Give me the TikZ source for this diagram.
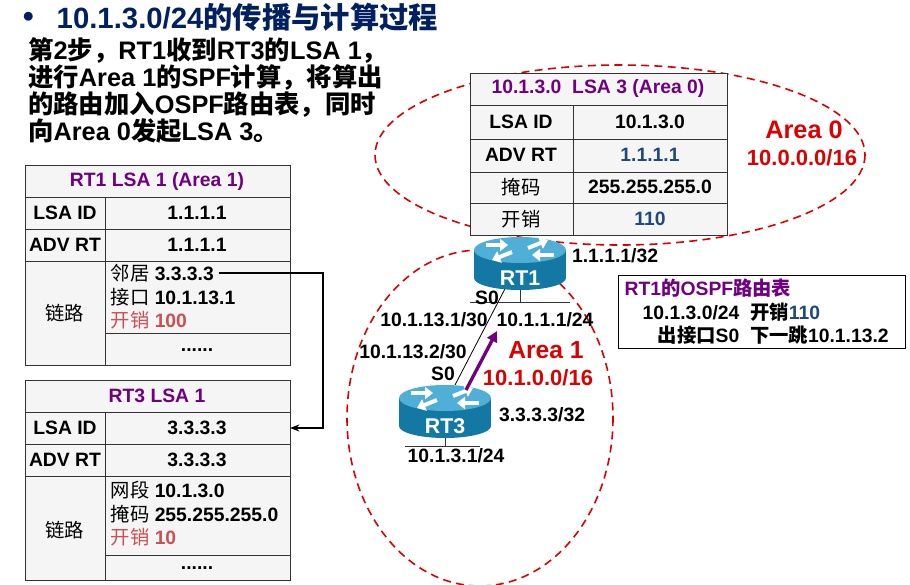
\documentclass[tikz,border=0pt]{standalone}
\usepackage{fontspec}
\setmainfont{Liberation Sans}
\newfontfamily\cjk{Noto Sans CJK SC}
\newfontfamily\cjkb{Noto Sans CJK SC Bold}
\newcommand{\zh}[1]{{\mdseries\cjk #1}}
\newcommand{\zb}[1]{{\cjkb #1}}
\usetikzlibrary{arrows.meta}
\definecolor{ttl}{RGB}{0,32,96}
\definecolor{pur}{RGB}{112,0,128}
\definecolor{cred}{RGB}{220,0,0}
\definecolor{pink}{RGB}{205,80,80}
\definecolor{blu}{RGB}{31,73,125}
\definecolor{rbody}{RGB}{20,120,165}
\definecolor{rtop}{RGB}{80,175,215}
\begin{document}
\begin{tikzpicture}[x=0.75pt,y=-0.75pt,
  cell/.style={draw=black!80,line width=0.6pt},
  tt/.style={font=\bfseries\fontsize{14.5}{16}\selectfont},
  lbl/.style={font=\bfseries\fontsize{14.5}{16}\selectfont},
  area/.style={draw=cred,dashed,line width=1.2pt,dash pattern=on 6pt off 4pt}]
\useasboundingbox (0,0) rectangle (910,585);
% title
\node[anchor=west,text=ttl,font=\bfseries\fontsize{18}{20}\selectfont] (bul) at (18,17) {$\bullet$};
\node[anchor=west,text=ttl,font=\bfseries\fontsize{22}{24}\selectfont] (title) at (52,17) {10.1.3.0/24\zb{的传播与计算过程}};
\node[anchor=north west,align=left,font=\bfseries\fontsize{19}{20.3}\selectfont,inner sep=0] (txt) at (28,37)
 {\zb{第}2\zb{步，}RT1\zb{收到}RT3\zb{的}LSA 1\zb{，}\\\zb{进行}Area 1\zb{的}SPF\zb{计算，将算出}\\\zb{的路由加入}OSPF\zb{路由表，同时}\\\zb{向}Area 0\zb{发起}LSA 3\zb{。}};
% ellipses
\draw[area] (620,155) ellipse (245 and 90);
\draw[area] (480,418) ellipse (133 and 168);
% table RT1 LSA1
\fill[black!4] (25,165) rectangle (290,365);
\draw[cell] (25,165) rectangle (290,365);
\foreach \y in {197,229,261} \draw[cell] (25,\y)--(290,\y);
\draw[cell] (105,197)--(105,365);
\draw[cell] (105,333)--(290,333);
\node[tt,text=pur] (a0) at (157,181) {RT1 LSA 1 (Area 1)};
\node[tt] (a1) at (65,213) {LSA ID};
\node[tt] (a2) at (197,213) {1.1.1.1};
\node[tt] (a3) at (65,245) {ADV RT};
\node[tt] (a4) at (197,245) {1.1.1.1};
\node[tt] (a5) at (65,313) {\zh{链路}};
\node[tt,anchor=west] (a6) at (106,273) {\zh{邻居}\ 3.3.3.3};
\node[tt,anchor=west] (a7) at (106,297) {\zh{接口} 10.1.13.1};
\node[tt,anchor=west,text=pink] (a8) at (106,320) {\zh{开销} 100};
\node[tt] (a9) at (197,350) {......};
% table RT3
\fill[black!4] (25,380) rectangle (290,580);
\draw[cell] (25,380) rectangle (290,580);
\foreach \y in {412,444,476} \draw[cell] (25,\y)--(290,\y);
\draw[cell] (105,412)--(105,580);
\draw[cell] (105,555)--(290,555);
\node[tt,text=pur] (b0) at (157,396) {RT3 LSA 1};
\node[tt] (b1) at (65,428) {LSA ID};
\node[tt] (b2) at (197,428) {3.3.3.3};
\node[tt] (b3) at (65,460) {ADV RT};
\node[tt] (b4) at (197,460) {3.3.3.3};
\node[tt] (b5) at (65,530) {\zh{链路}};
\node[tt,anchor=west] (b6) at (106,490) {\zh{网段} 10.1.3.0};
\node[tt,anchor=west] (b7) at (106,514) {\zh{掩码} 255.255.255.0};
\node[tt,anchor=west,text=pink] (b8) at (106,537) {\zh{开销} 10};
\node[tt] (b9) at (197,568) {......};
\draw[line width=1.6pt,-{Stealth[length=7pt]}] (a6.east) -- (323,273) |- (290,428);
% top table
\fill[black!4] (470,73) rectangle (727,235);
\draw[cell] (470,73) rectangle (727,235);
\foreach \y in {105,139,172,203} \draw[cell] (470,\y)--(727,\y);
\draw[cell] (573,105)--(573,235);
\node[tt,text=pur] (c0) at (598,89) {10.1.3.0\ \ LSA 3 (Area 0)};
\node[tt] (c1) at (521,122) {LSA ID};
\node[tt] (c2) at (650,122) {10.1.3.0};
\node[tt] (c3) at (521,155) {ADV RT};
\node[tt,text=blu] (c4) at (650,155) {1.1.1.1};
\node[tt] (c5) at (521,187) {\zh{掩码}};
\node[tt] (c6) at (650,187) {255.255.255.0};
\node[tt] (c7) at (521,219) {\zh{开销}};
\node[tt,text=blu] (c8) at (650,219) {110};
\node[text=cred,font=\bfseries\fontsize{19}{21}\selectfont] (ar0) at (804,130) {Area 0};
\node[text=cred,font=\bfseries\fontsize{16.5}{18}\selectfont] (ar0b) at (802,158) {10.0.0.0/16};
% links
\draw[black,line width=0.6pt] (508,283) -- (455,385);
\draw[cell] (520,290) -- (520,302);
\draw[cell] (470,302)--(570,302);
\draw[cell] (445,437) -- (445,446);
\draw[cell] (405,446)--(480,446);
% routers
\foreach \n/\cx/\cy in {RT1/520/250,RT3/445/398}{
  \fill[rbody] (\cx-46,\cy) rectangle (\cx+46,\cy+28);
  \fill[rbody] (\cx,\cy+28) ellipse (46 and 12);
  \fill[rtop] (\cx,\cy) ellipse (46 and 13);
  \begin{scope}[white,line width=3pt,-{Triangle[length=6pt,width=9pt]}]
   \draw (\cx-34,\cy-5)--(\cx-12,\cy-5);
   \draw (\cx+34,\cy+5)--(\cx+12,\cy+5);
   \draw (\cx+8,\cy-2)--(\cx+28,\cy-10);
   \draw (\cx-8,\cy+2)--(\cx-28,\cy+10);
  \end{scope}
  \node[white,font=\bfseries\fontsize{16}{18}\selectfont] (\n) at (\cx,\cy+28) {\n};
}
\draw[pur,line width=2.5pt,-{Triangle[length=8pt,width=8pt]}] (466,390) -- (497,331);
\node[lbl] (l1) at (615,256) {1.1.1.1/32};
\node[lbl] (l2) at (487,298) {S0};
\node[lbl] (l3) at (434,320) {10.1.13.1/30};
\node[lbl] (l4) at (545,320) {10.1.1.1/24};
\node[lbl] (l5) at (413,352) {10.1.13.2/30};
\node[lbl] (l6) at (443,374) {S0};
\node[lbl] (l7) at (542,415) {3.3.3.3/32};
\node[lbl] (l8) at (456,456) {10.1.3.1/24};
\node[text=cred,font=\bfseries\fontsize{18.5}{20}\selectfont] (ar1) at (546,350) {Area 1};
\node[text=cred,font=\bfseries\fontsize{16.5}{18}\selectfont] (ar1b) at (538,378) {10.1.0.0/16};
% routing table box
\fill[white] (618,275) rectangle (905,348);
\draw[line width=0.7pt] (618,275) rectangle (905,348);
\node[tt,anchor=west,text=pur] (t1) at (620,288) {RT1\zb{的}OSPF\zb{路由表}};
\node[tt,anchor=west] (t2) at (638,312) {10.1.3.0/24\ \ \zb{开销}\textcolor{blu}{110}};
\node[tt,anchor=west] (t3) at (653,335) {\zb{出接口}S0\ \ \zb{下一跳}10.1.13.2};
\end{tikzpicture}
\end{document}
